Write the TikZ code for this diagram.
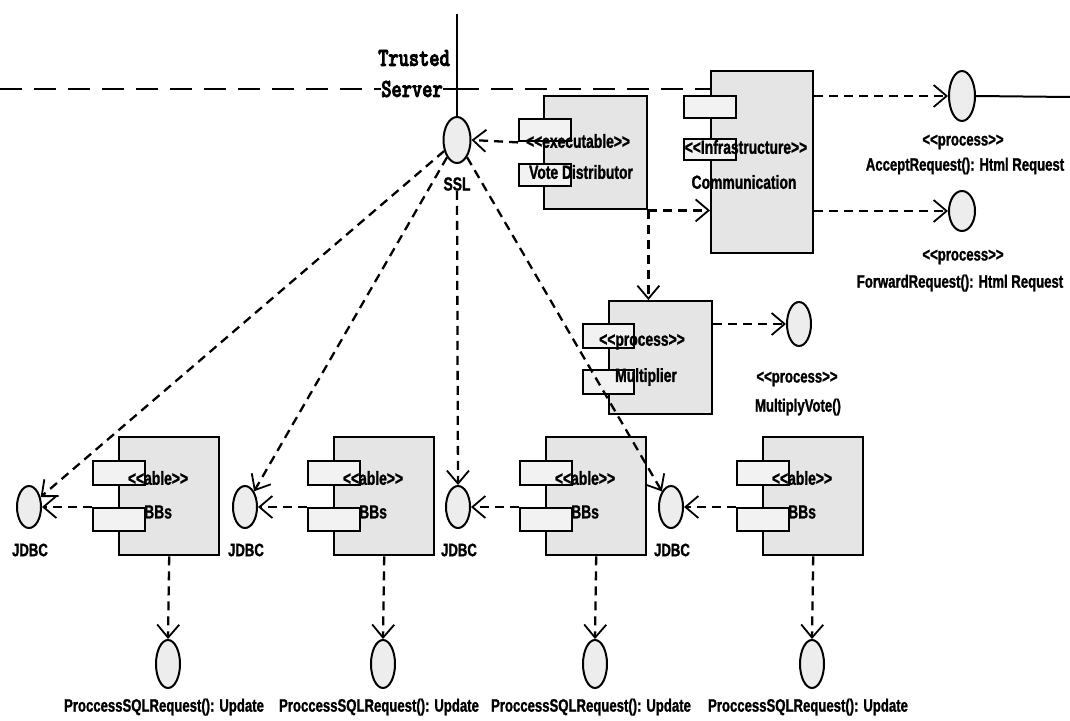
\documentclass[tikz,border=0pt]{standalone}
\usepackage{fontspec}
\usetikzlibrary{arrows.meta,shapes.geometric}
\newfontfamily\narrowsans[FakeStretch=0.73,FakeBold=1.2]{Liberation Sans}
\newfontfamily\monoserv{lmmonolt10-bold.otf}[FakeStretch=0.75,FakeBold=3]
\definecolor{boxfill}{gray}{0.90}
\definecolor{tabfill}{gray}{0.95}
\definecolor{ifill}{gray}{0.93}
\begin{document}
\begin{tikzpicture}[x=1pt,y=-1pt,
  comp/.style={draw,line width=2.4pt,fill=boxfill,inner sep=0pt,anchor=north west},
  tab/.style={draw,line width=2.4pt,fill=tabfill,inner sep=0pt,anchor=north west,
              minimum width=52pt,minimum height=23pt},
  iface/.style={ellipse,draw,line width=2pt,fill=ifill,inner sep=0pt},
  dep/.style={line width=2.3pt,dash pattern=on 9pt off 6pt,
              -{Straight Barb[length=13pt,width=22pt,line width=1.8pt]}},
  bnd/.style={line width=1.6pt,dash pattern=on 22pt off 12pt},
  ctext/.style={font=\narrowsans\bfseries\fontsize{19}{21}\selectfont,inner sep=0pt},
  ltext/.style={font=\narrowsans\bfseries\fontsize{18}{20}\selectfont,inner sep=0pt},
  srvtext/.style={font=\monoserv\fontsize{26}{28}\selectfont,inner sep=0pt}]

\fill[white] (0,0) rectangle (1070,720);
\useasboundingbox (0,0) rectangle (1070,720);

% ---------- trusted server boundary ----------
\node[srvtext] (srvA) at (414,58) {Trusted};
\node[srvtext] (srvB) at (412,89) {Server};
\coordinate (mast) at (457,14);
\coordinate (bndL) at (0,89);
\coordinate (rim) at (1070,97);

% ---------- components ----------
% Vote Distributor
\node[comp,minimum width=103pt,minimum height=113pt] (vd) at (543,95) {};
\node[tab,minimum height=22pt] (vdA) at (518,118) {};
\node[tab,minimum height=22pt] (vdB) at (518,163) {};
\node[ctext] (vdS) at (578,141) {<<executable>>};
\node[ctext] (vdN) at (581,172) {Vote Distributor};

% Communication
\node[comp,minimum width=102pt,minimum height=182pt] (comm) at (710,70) {};
\node[tab,minimum height=22pt] (cA) at (683,95) {};
\node[tab,minimum height=21pt] (cB) at (683,138) {};
\node[ctext] (cS) at (746,147) {<<Infrastructure>>};
\node[ctext] (cN) at (744,182) {Communication};

% Multiplier
\node[comp,minimum width=103pt,minimum height=113pt] (mult) at (608,300) {};
\node[tab,minimum width=51pt,minimum height=24pt] (mA) at (582,323) {};
\node[tab,minimum width=51pt,minimum height=24pt] (mB) at (582,369) {};
\node[ctext] (mS) at (642,342) {<<process>>};
\node[ctext] (mN) at (646,377) {Multiplier};

% BBs tables
\foreach \i/\x in {1/118,2/333,3/545,4/762}{
  \node[comp,minimum width=100pt,minimum height=118pt] (b\i) at (\x,436) {};
  \node[tab,minimum height=24pt] (b\i A) at (\x-26,460) {};
  \node[tab,minimum height=23pt] (b\i B) at (\x-26,507) {};
  \node[ctext] (b\i S) at (\x+40,478) {<<able>>};
  \node[ctext,anchor=west] (b\i N) at (\x+26,512) {BBs};
}

% ---------- interfaces ----------
\node[iface,minimum width=27pt,minimum height=46pt] (ssl) at (457,140) {};
\node[ctext] (sslL) at (457,184) {SSL};

\node[iface,minimum width=26pt,minimum height=50pt] (acc) at (962,96) {};
\node[ltext] (accS) at (963,142) {<<process>>};
\node[ltext] (accN) at (965,166) {AcceptRequest(): Html Request};

\node[iface,minimum width=26pt,minimum height=40pt] (fwd) at (962,211) {};
\node[ltext] (fwdS) at (963,257) {<<process>>};
\node[ltext] (fwdN) at (960,283) {ForwardRequest(): Html Request};

\node[iface,minimum width=24pt,minimum height=44pt] (mv) at (799,324) {};
\node[ltext] (mvS) at (797,379) {<<process>>};
\node[ltext] (mvN) at (798,407) {MultiplyVote()};

\foreach \i/\x in {1/29,2/245,3/458,4/671}{
  \node[iface,minimum width=24pt,minimum height=42pt] (j\i) at (\x,507) {};
  \node[ltext] (j\i L) at (\x+1,550) {JDBC};
}

\foreach \i/\x in {1/168,2/383,3/595,4/812}{
  \node[iface,minimum width=24pt,minimum height=48pt] (p\i) at (\x,664) {};
  \node[ltext] (p\i L) at (\x-4,707) {ProccessSQLRequest(): Update};
}

% ---------- boundary lines ----------
\draw[bnd] (bndL) -- (srvB.west);
\draw[line width=1.6pt] (srvB.east) -- (srvB.east -| mast);
\draw[bnd] (srvB.east -| mast) -- (srvB.east -| comm.west);
\draw[line width=2pt] (mast) -- (ssl.north);
\draw[line width=2pt] (acc.east) -- (rim);

% ---------- dependencies ----------
\draw[dep] (vdA.south west) -- (ssl.east);
\draw[dep] (vd.south east) -- (vd.south east -| comm.west);
\draw[dep] (vd.south east) -- (vd.south east |- mult.north);
\draw[dep] (acc.west -| comm.east) -- (acc.west);
\draw[dep] (fwd.west -| comm.east) -- (fwd.west);
\draw[dep] (mv.west -| mult.east) -- (mv.west);

\draw[dep] (ssl) -- (j1);
\draw[dep] (ssl) -- (j2);
\draw[dep] (sslL.south) -- (j3.north);
\draw[dep] (ssl) -- (j4);

\foreach \i in {1,2,3,4}{
  \draw[dep] (j\i.east -| b\i B.west) -- (j\i.east);
  \draw[dep] (b\i.south) -- (p\i.north);
}
\end{tikzpicture}
\end{document}
